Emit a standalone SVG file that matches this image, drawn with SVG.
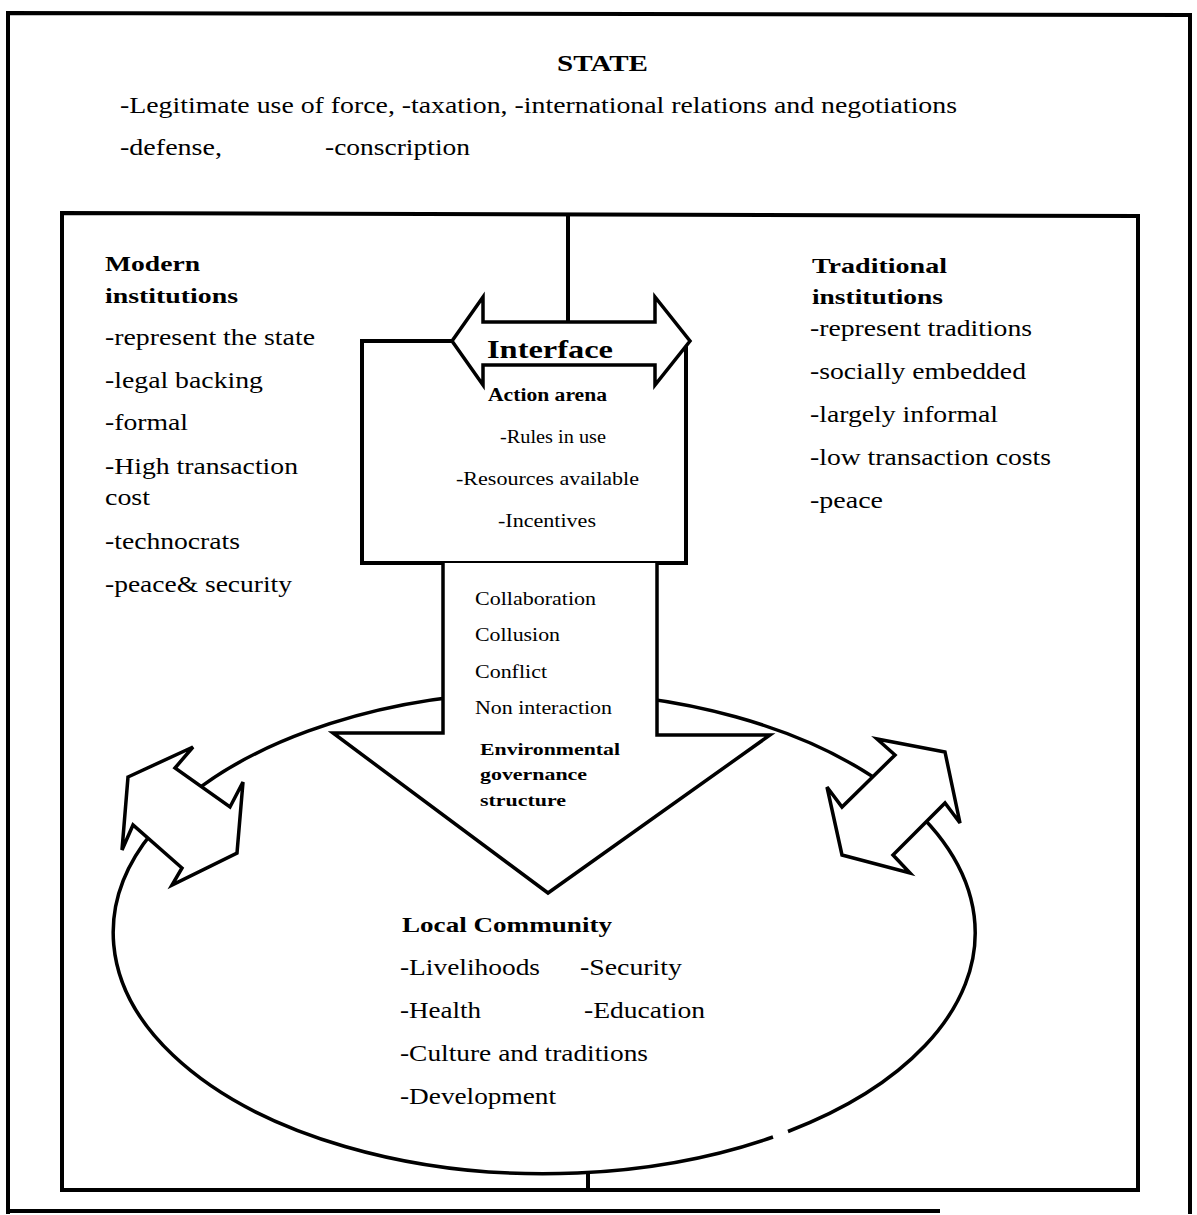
<svg xmlns="http://www.w3.org/2000/svg" width="1197" height="1215" viewBox="0 0 1197 1215">
<style>
text{font-family:"Liberation Serif","Times New Roman",serif;fill:#000}
.t{font-size:23px}
.b{font-size:22px;font-weight:bold}
.h{font-size:24px;font-weight:bold}
.s{font-size:19px}
.sb{font-size:18px;font-weight:bold}
.eb{font-size:17px;font-weight:bold}
.ln{fill:none;stroke:#000;stroke-width:4}
.sh{fill:#fff;stroke:#000;stroke-width:3.5;stroke-linejoin:miter}
</style>
<rect width="1197" height="1215" fill="#fff"/>
<g id="state">
<path class="ln" d="M8 1214 L8 13 L1190 15 L1190 1214"/>
<line class="ln" x1="8" y1="1211" x2="940" y2="1211" stroke-width="3"/>
<text class="h" x="557" y="71" textLength="91" lengthAdjust="spacingAndGlyphs">STATE</text>
<text class="t" x="120" y="113" textLength="837" lengthAdjust="spacingAndGlyphs">-Legitimate use of force, -taxation, -international relations and negotiations</text>
<text class="t" x="120" y="155" textLength="102" lengthAdjust="spacingAndGlyphs">-defense,</text>
<text class="t" x="325" y="155" textLength="145" lengthAdjust="spacingAndGlyphs">-conscription</text>
</g>
<g id="inner-frame">
<path class="ln" d="M62 1190 L62 213 L1138 216 L1138 1190 Z"/>
</g>
<g id="connectors">
<line class="ln" x1="568" y1="214" x2="568" y2="323" stroke-width="3.5"/>
<path id="ellipse" fill="none" stroke="#000" stroke-width="3.5" d="M788 1131.5 A431 241 0 1 0 773 1137"/>
<line class="ln" x1="588" y1="1171" x2="588" y2="1190" stroke-width="3"/>
</g>
<g id="modern">
<text class="b" x="105" y="271" textLength="95" lengthAdjust="spacingAndGlyphs">Modern</text>
<text class="b" x="105" y="303" textLength="133" lengthAdjust="spacingAndGlyphs">institutions</text>
<text class="t" x="105" y="345" textLength="210" lengthAdjust="spacingAndGlyphs">-represent the state</text>
<text class="t" x="105" y="388" textLength="158" lengthAdjust="spacingAndGlyphs">-legal backing</text>
<text class="t" x="105" y="430" textLength="83" lengthAdjust="spacingAndGlyphs">-formal</text>
<text class="t" x="105" y="474" textLength="193" lengthAdjust="spacingAndGlyphs">-High transaction</text>
<text class="t" x="105" y="505" textLength="45" lengthAdjust="spacingAndGlyphs">cost</text>
<text class="t" x="105" y="549" textLength="135" lengthAdjust="spacingAndGlyphs">-technocrats</text>
<text class="t" x="105" y="592" textLength="187" lengthAdjust="spacingAndGlyphs">-peace&amp; security</text>
</g>
<g id="traditional">
<text class="b" x="812" y="273" textLength="135" lengthAdjust="spacingAndGlyphs">Traditional</text>
<text class="b" x="812" y="304" textLength="131" lengthAdjust="spacingAndGlyphs">institutions</text>
<text class="t" x="810" y="336" textLength="222" lengthAdjust="spacingAndGlyphs">-represent traditions</text>
<text class="t" x="810" y="379" textLength="216" lengthAdjust="spacingAndGlyphs">-socially embedded</text>
<text class="t" x="810" y="422" textLength="188" lengthAdjust="spacingAndGlyphs">-largely informal</text>
<text class="t" x="810" y="465" textLength="241" lengthAdjust="spacingAndGlyphs">-low transaction costs</text>
<text class="t" x="810" y="508" textLength="73" lengthAdjust="spacingAndGlyphs">-peace</text>
</g>
<g id="interface">
<path class="ln" d="M452 341 L362 341 L362 563 L686 563 L686 341 L690 341" stroke-width="3.5"/>
<path class="sh" d="M452 341 L483 297 L483 322 L655 322 L655 297 L690 341 L655 385 L655 365 L483 365 L483 385 Z"/>
<text x="487" y="358" font-size="26" font-weight="bold" textLength="126" lengthAdjust="spacingAndGlyphs">Interface</text>
<text class="sb" x="488" y="401" textLength="119" lengthAdjust="spacingAndGlyphs">Action arena</text>
<text class="s" x="500" y="443" textLength="106" lengthAdjust="spacingAndGlyphs">-Rules in use</text>
<text class="s" x="456" y="485" textLength="183" lengthAdjust="spacingAndGlyphs">-Resources available</text>
<text class="s" x="498" y="527" textLength="98" lengthAdjust="spacingAndGlyphs">-Incentives</text>
</g>
<g id="governance-arrow">
<path class="sh" d="M443 563 L443 733 L333 733 L548 893 L770 735 L657 735 L657 563"/>
<text class="s" x="475" y="605" textLength="121" lengthAdjust="spacingAndGlyphs">Collaboration</text>
<text class="s" x="475" y="641" textLength="85" lengthAdjust="spacingAndGlyphs">Collusion</text>
<text class="s" x="475" y="678" textLength="72" lengthAdjust="spacingAndGlyphs">Conflict</text>
<text class="s" x="475" y="714" textLength="137" lengthAdjust="spacingAndGlyphs">Non interaction</text>
<text class="eb" x="480" y="755" textLength="140" lengthAdjust="spacingAndGlyphs">Environmental</text>
<text class="eb" x="480" y="780" textLength="107" lengthAdjust="spacingAndGlyphs">governance</text>
<text class="eb" x="480" y="806" textLength="86" lengthAdjust="spacingAndGlyphs">structure</text>
</g>
<g id="left-double-arrow">
<path class="sh" d="M128 777 L193 747 L175 768 L230 807 L243 782 L237 853 L172 885 L182 868 L133 825 L122 850 Z"/>
</g>
<g id="right-double-arrow">
<path class="sh" d="M945 752 L877 739 L895 755 L842 807 L827 787 L842 855 L910 873 L893 855 L945 803 L960 823 Z"/>
</g>
<g id="local-community">
<text class="b" x="402" y="932" textLength="210" lengthAdjust="spacingAndGlyphs">Local Community</text>
<text class="t" x="400" y="975" textLength="140" lengthAdjust="spacingAndGlyphs">-Livelihoods</text>
<text class="t" x="580" y="975" textLength="102" lengthAdjust="spacingAndGlyphs">-Security</text>
<text class="t" x="400" y="1018" textLength="81" lengthAdjust="spacingAndGlyphs">-Health</text>
<text class="t" x="584" y="1018" textLength="121" lengthAdjust="spacingAndGlyphs">-Education</text>
<text class="t" x="400" y="1061" textLength="248" lengthAdjust="spacingAndGlyphs">-Culture and traditions</text>
<text class="t" x="400" y="1104" textLength="156" lengthAdjust="spacingAndGlyphs">-Development</text>
</g>
</svg>
